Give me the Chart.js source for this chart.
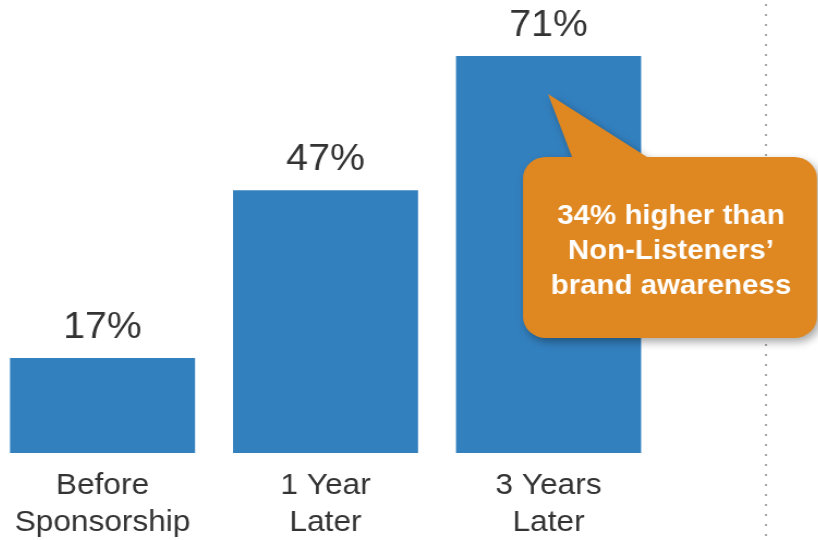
<!DOCTYPE html>
<html>
<head>
<meta charset="utf-8">
<script src="https://cdn.jsdelivr.net/npm/chart.js@4"></script>
<style>
  html, body { margin: 0; padding: 0; background: #fff; overflow: hidden; }
  #wrap { position: relative; width: 818px; height: 540px; overflow: hidden; }
  /* fonts in this deck are a little wide, so the whole canvas is stretched */
  #chart { position: absolute; left: -9px; top: 0; transform: scaleX(1.09); transform-origin: 0 0; }
</style>
</head>
<body>
<div id="wrap"><canvas id="chart" width="760" height="540"></canvas></div>
<script>
// awareness over time
const categories = [['Before', 'Sponsorship'], ['1 Year', 'Later'], ['3 Years', 'Later']];
const awareness = [17, 47, 71];
const valueLabels = ['17%', '47%', '71%'];
const calloutLines = ['34% higher than', 'Non-Listeners’', 'brand awareness'];
const yMax = 81;

const STRETCH = 1.09;
const SHIFT = 9;
// page x -> canvas x
function cx(px) { return (px + SHIFT) / STRETCH; }

const FONT = '"Liberation Sans", Arial, sans-serif';

// dotted divider on the right
const dividerPlugin = {
  id: 'divider',
  beforeDraw(chart) {
    const ctx = chart.ctx;
    ctx.save();
    ctx.fillStyle = '#a8a8a8';
    const x = cx(766);
    for (let y = 4; y < 540; y += 10) {
      ctx.fillRect(x - 1, y, 2, 2);
    }
    ctx.restore();
  }
};

// percent labels above bars
const valuePlugin = {
  id: 'values',
  afterDatasetsDraw(chart) {
    const ctx = chart.ctx;
    const meta = chart.getDatasetMeta(0);
    ctx.save();
    ctx.font = '36px ' + FONT;
    ctx.fillStyle = '#333333';
    ctx.textAlign = 'center';
    ctx.textBaseline = 'alphabetic';
    meta.data.forEach((bar, i) => {
      ctx.fillText(valueLabels[i], bar.x, bar.y - 20);
    });
    ctx.restore();
  }
};

// orange speech bubble pointing at the last bar
const calloutPlugin = {
  id: 'callout',
  afterDraw(chart) {
    const ctx = chart.ctx;
    const L = cx(523), R = cx(817), T = 157, B = 338, r = 21;
    const tipX = cx(548), tipY = 94;
    const baseL = cx(572), baseR = cx(647);
    ctx.save();
    ctx.beginPath();
    ctx.moveTo(L + r, T);
    ctx.lineTo(baseL, T);
    ctx.lineTo(tipX, tipY);
    ctx.lineTo(baseR, T);
    ctx.arcTo(R, T, R, B, r);
    ctx.arcTo(R, B, L, B, r);
    ctx.arcTo(L, B, L, T, r);
    ctx.arcTo(L, T, R, T, r);
    ctx.closePath();
    ctx.shadowColor = 'rgba(0,0,0,0.35)';
    ctx.shadowBlur = 8;
    ctx.shadowOffsetX = 3;
    ctx.shadowOffsetY = 4;
    ctx.fillStyle = '#df8720';
    ctx.fill();
    ctx.shadowColor = 'transparent';
    ctx.font = 'bold 27px ' + FONT;
    ctx.fillStyle = '#ffffff';
    ctx.textAlign = 'center';
    ctx.textBaseline = 'alphabetic';
    const baselines = [224, 259, 294];
    calloutLines.forEach((line, i) => ctx.fillText(line, cx(671), baselines[i]));
    ctx.restore();
  }
};

new Chart(document.getElementById('chart'), {
  type: 'bar',
  data: {
    labels: categories,
    datasets: [{
      data: awareness,
      backgroundColor: '#3380bf',
      borderWidth: 0,
      categoryPercentage: 1,
      barPercentage: 0.83
    }]
  },
  options: {
    responsive: false,
    animation: false,
    layout: { padding: { left: 0, right: 760 - 3 * 204.6, top: 0, bottom: 0 } },
    plugins: {
      legend: { display: false },
      title: { display: false },
      tooltip: { enabled: false }
    },
    scales: {
      x: {
        grid: { display: false, drawTicks: false },
        border: { display: false },
        ticks: {
          color: '#333333',
          font: { family: FONT, size: 29, lineHeight: 1.28 },
          padding: 14,
          maxRotation: 0,
          autoSkip: false
        },
        afterFit(scale) { scale.height = 87; }
      },
      y: {
        display: false,
        min: 0,
        max: yMax
      }
    }
  },
  plugins: [dividerPlugin, valuePlugin, calloutPlugin]
});
</script>
</body>
</html>
